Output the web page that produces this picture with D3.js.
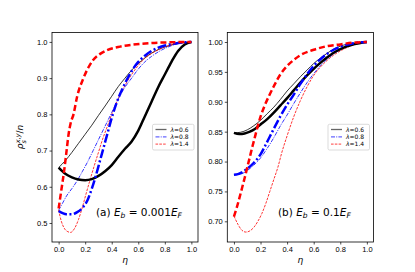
<!DOCTYPE html>
<html>
<head>
<meta charset="utf-8">
<script src="https://cdn.jsdelivr.net/npm/d3@7"></script>
<style>
  body { margin: 0; background: #fff; }
  svg { display: block; font-family: "DejaVu Sans", sans-serif; }
  .tick text { font-size: 7.5px; fill: #000; }
  .tick line { stroke: #000; stroke-width: 0.7px; }
  .domain { display: none; }
</style>
</head>
<body>
<svg id="chart" width="415" height="272"></svg>
<script>
  // panel (a): E_b = 0.001 E_F, [eta, rho/n]
  const a_l06_thin = [[0,0.653],[0.05,0.672],[0.1,0.695],[0.15,0.72],[0.2,0.745],[0.25,0.77],[0.3,0.797],[0.35,0.823],[0.4,0.85],[0.45,0.877],[0.5,0.9],[0.55,0.922],[0.6,0.94],[0.65,0.956],[0.7,0.969],[0.8,0.986],[0.9,0.996],[1,1]];
  const a_l06_thick = [[0,0.653],[0.05,0.636],[0.1,0.626],[0.15,0.62],[0.2,0.618],[0.25,0.621],[0.3,0.63],[0.35,0.643],[0.4,0.66],[0.45,0.683],[0.5,0.705],[0.55,0.725],[0.6,0.755],[0.65,0.795],[0.7,0.835],[0.75,0.875],[0.8,0.91],[0.85,0.945],[0.9,0.975],[0.95,0.993],[1,1]];
  const a_l08_thin = [[0,0.535],[0.03,0.555],[0.06,0.575],[0.1,0.595],[0.14,0.617],[0.18,0.643],[0.22,0.67],[0.26,0.7],[0.3,0.73],[0.34,0.76],[0.38,0.79],[0.42,0.82],[0.46,0.85],[0.5,0.875],[0.55,0.9],[0.6,0.925],[0.65,0.945],[0.7,0.96],[0.8,0.982],[0.9,0.995],[1,1]];
  const a_l08_thick = [[0,0.533],[0.03,0.527],[0.06,0.524],[0.1,0.524],[0.14,0.53],[0.18,0.542],[0.22,0.565],[0.25,0.595],[0.28,0.63],[0.31,0.67],[0.34,0.71],[0.37,0.75],[0.4,0.79],[0.44,0.835],[0.48,0.87],[0.52,0.9],[0.56,0.925],[0.6,0.945],[0.65,0.962],[0.7,0.975],[0.8,0.99],[0.9,0.997],[1,1]];
  const a_l14_thin = [[0,0.536],[0.02,0.505],[0.04,0.487],[0.06,0.478],[0.09,0.474],[0.12,0.485],[0.15,0.51],[0.18,0.545],[0.21,0.585],[0.24,0.623],[0.27,0.66],[0.3,0.695],[0.33,0.73],[0.36,0.76],[0.4,0.8],[0.45,0.845],[0.5,0.88],[0.55,0.91],[0.6,0.935],[0.65,0.955],[0.7,0.968],[0.8,0.986],[0.9,0.996],[1,1]];
  const a_l14_thick = [[0,0.54],[0.02,0.59],[0.04,0.64],[0.06,0.7],[0.075,0.745],[0.09,0.775],[0.112,0.8],[0.14,0.85],[0.187,0.9],[0.225,0.93],[0.26,0.95],[0.313,0.967],[0.37,0.978],[0.463,0.987],[0.55,0.992],[0.7,0.997],[0.85,0.999],[1,1]];

  // panel (b): E_b = 0.1 E_F
  const b_l06_thin = [[0,0.848],[0.05,0.849],[0.1,0.853],[0.15,0.86],[0.2,0.869],[0.25,0.88],[0.3,0.891],[0.35,0.904],[0.4,0.918],[0.45,0.93],[0.5,0.942],[0.55,0.953],[0.6,0.964],[0.65,0.973],[0.7,0.981],[0.75,0.988],[0.8,0.993],[0.9,0.998],[1,1]];
  const b_l06_thick = [[0,0.848],[0.04,0.846],[0.08,0.847],[0.12,0.85],[0.16,0.855],[0.2,0.862],[0.25,0.871],[0.3,0.882],[0.35,0.894],[0.4,0.906],[0.45,0.919],[0.5,0.932],[0.55,0.944],[0.6,0.955],[0.65,0.965],[0.7,0.974],[0.75,0.982],[0.8,0.988],[0.9,0.996],[1,1]];
  const b_l08_thin = [[0,0.778],[0.05,0.779],[0.1,0.785],[0.15,0.794],[0.2,0.806],[0.25,0.822],[0.3,0.84],[0.35,0.86],[0.4,0.878],[0.45,0.897],[0.5,0.915],[0.55,0.932],[0.6,0.947],[0.65,0.96],[0.7,0.971],[0.75,0.98],[0.8,0.987],[0.9,0.996],[1,1]];
  const b_l08_thick = [[0,0.778],[0.03,0.779],[0.06,0.782],[0.1,0.788],[0.15,0.798],[0.2,0.812],[0.25,0.833],[0.3,0.855],[0.35,0.876],[0.4,0.895],[0.45,0.912],[0.5,0.93],[0.55,0.946],[0.6,0.96],[0.65,0.971],[0.7,0.98],[0.75,0.987],[0.8,0.992],[0.9,0.998],[1,1]];
  const b_l14_thin = [[0,0.709],[0.03,0.695],[0.06,0.685],[0.09,0.682],[0.12,0.684],[0.15,0.69],[0.18,0.7],[0.21,0.713],[0.24,0.73],[0.27,0.75],[0.3,0.77],[0.33,0.79],[0.36,0.815],[0.4,0.843],[0.45,0.875],[0.5,0.902],[0.55,0.925],[0.6,0.944],[0.65,0.958],[0.7,0.969],[0.75,0.978],[0.8,0.985],[0.9,0.995],[1,1]];
  const b_l14_thick = [[0,0.708],[0.02,0.722],[0.04,0.738],[0.06,0.755],[0.08,0.772],[0.1,0.79],[0.12,0.808],[0.14,0.826],[0.16,0.843],[0.18,0.86],[0.2,0.875],[0.23,0.893],[0.26,0.908],[0.3,0.926],[0.35,0.946],[0.4,0.96],[0.45,0.97],[0.5,0.978],[0.6,0.987],[0.7,0.993],[0.8,0.996],[0.9,0.999],[1,1]];

  const xTicks = [0, 0.2, 0.4, 0.6, 0.8, 1.0];
  const yTicksA = [0.5, 0.6, 0.7, 0.8, 0.9, 1.0];
  const yTicksB = [0.70, 0.75, 0.80, 0.85, 0.90, 0.95, 1.00];
  const legendLabels = ['0.6', '0.8', '1.4'];

  const styles = [
    {color: '#000', dash: null, dashThin: null},
    {color: '#0000ff', dash: '9,2.5,2,2.5', dashThin: '4,1.2,1,1.2'},
    {color: '#ff0000', dash: '6,3', dashThin: '2.6,1.2'}
  ];

  const panels = [
    {left: 52, right: 198, yDomain: [0.4475, 1.026], yTicks: yTicksA, fmt: '.1f',
     thin: [a_l06_thin, a_l08_thin, a_l14_thin], thick: [a_l06_thick, a_l08_thick, a_l14_thick],
     label: ['(a) ', '0.001'], labelX: 96, legX: 152.5},
    {left: 227.3, right: 373.5, yDomain: [0.6654, 1.0159], yTicks: yTicksB, fmt: '.2f',
     thin: [b_l06_thin, b_l08_thin, b_l14_thin], thick: [b_l06_thick, b_l08_thick, b_l14_thick],
     label: ['(b) ', '0.1'], labelX: 278, legX: 328}
  ];

  const plotTop = 32.5, plotBottom = 242;
  const svg = d3.select('#chart');

  panels.forEach(p => {
    const x = d3.scaleLinear().domain([-0.05, 1.05]).range([p.left, p.right]);
    const y = d3.scaleLinear().domain(p.yDomain).range([plotBottom, plotTop]);
    const g = svg.append('g');

    const line = d3.line().curve(d3.curveMonotoneX)
      .x(d => x(d[0])).y(d => y(d[1]));

    const clipId = 'clip' + Math.round(p.left);
    g.append('clipPath').attr('id', clipId).append('rect')
      .attr('x', p.left).attr('y', plotTop).attr('width', p.right - p.left).attr('height', plotBottom - plotTop);
    const plot = g.append('g').attr('clip-path', `url(#${clipId})`);

    p.thin.forEach((data, i) => {
      plot.append('path').datum(data)
        .attr('fill', 'none')
        .attr('stroke', styles[i].color)
        .attr('stroke-width', 0.8)
        .attr('stroke-dasharray', styles[i].dashThin)
        .attr('d', line);
    });
    p.thick.forEach((data, i) => {
      plot.append('path').datum(data)
        .attr('fill', 'none')
        .attr('stroke', styles[i].color)
        .attr('stroke-width', 2.5)
        .attr('stroke-dasharray', styles[i].dash)
        .attr('d', line);
    });

    // frame
    g.append('rect')
      .attr('x', p.left).attr('y', plotTop)
      .attr('width', p.right - p.left).attr('height', plotBottom - plotTop)
      .attr('fill', 'none').attr('stroke', '#000').attr('stroke-width', 0.8);

    g.append('g').attr('transform', `translate(0,${plotBottom})`)
      .call(d3.axisBottom(x).tickValues(xTicks).tickFormat(d3.format('.1f')).tickSize(2.5).tickPadding(2));
    g.append('g').attr('transform', `translate(${p.left},0)`)
      .call(d3.axisLeft(y).tickValues(p.yTicks).tickFormat(d3.format(p.fmt)).tickSize(2.5).tickPadding(2));

    // x label
    g.append('text')
      .attr('x', (p.left + p.right) / 2).attr('y', 263)
      .attr('text-anchor', 'middle').attr('font-size', 9).attr('font-style', 'italic')
      .text('η');

    // annotation
    const t = g.append('text').attr('x', p.labelX).attr('y', 216).attr('font-size', 10.5);
    t.append('tspan').text(p.label[0]);
    t.append('tspan').attr('font-style', 'italic').text('E');
    t.append('tspan').attr('font-style', 'italic').attr('font-size', 7.5).attr('dy', 2).text('b');
    t.append('tspan').attr('dy', -2).text(' = ' + p.label[1]);
    t.append('tspan').attr('font-style', 'italic').text('E');
    t.append('tspan').attr('font-style', 'italic').attr('font-size', 7.5).attr('dy', 2).text('F');

    // legend
    const lg = g.append('g');
    lg.append('rect')
      .attr('x', p.legX).attr('y', 124.3).attr('width', 41.5).attr('height', 25.7)
      .attr('rx', 1.5).attr('fill', '#fff').attr('fill-opacity', 0.8)
      .attr('stroke', '#cccccc').attr('stroke-width', 0.7);
    legendLabels.forEach((lab, i) => {
      const ly = 129.5 + i * 7.3;
      lg.append('line')
        .attr('x1', p.legX + 3).attr('x2', p.legX + 14)
        .attr('y1', ly).attr('y2', ly)
        .attr('stroke', styles[i].color).attr('stroke-opacity', 0.6)
        .attr('stroke-width', 1.3)
        .attr('stroke-dasharray', styles[i].dashThin);
      const lt = lg.append('text').attr('x', p.legX + 18).attr('y', ly + 2).attr('font-size', 6);
      lt.append('tspan').attr('font-style', 'italic').text('λ');
      lt.append('tspan').text('=' + lab);
    });
  });

  // y label on left panel
  const yl = svg.append('text')
    .attr('transform', 'translate(23,137) rotate(-90)')
    .attr('text-anchor', 'middle').attr('font-size', 9);
  yl.append('tspan').attr('font-style', 'italic').text('ρ');
  yl.append('tspan').attr('font-style', 'italic').attr('font-size', 6.5).attr('dy', 2.5).text('s');
  yl.append('tspan').attr('font-style', 'italic').attr('font-size', 6.5).attr('dx', -3).attr('dy', -6).text('x,y');
  yl.append('tspan').attr('dy', 3.5).text('/');
  yl.append('tspan').attr('font-style', 'italic').text('n');
</script>
</body>
</html>
